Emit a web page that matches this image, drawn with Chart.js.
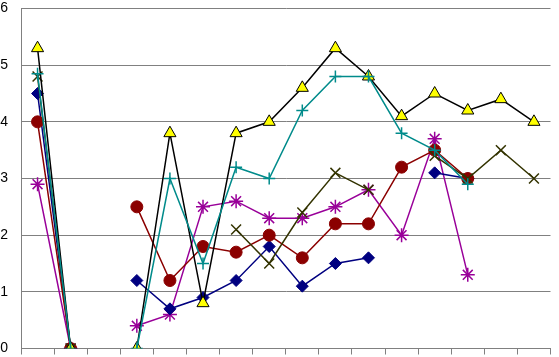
<!DOCTYPE html>
<html>
<head>
<meta charset="utf-8">
<script src="https://cdn.jsdelivr.net/npm/chart.js@4/dist/chart.umd.min.js"></script>
<style>
  html, body { margin: 0; padding: 0; background: #fff; }
  #wrap { width: 559px; height: 357px; }
</style>
</head>
<body>
<div id="wrap"><canvas id="chart" width="559" height="357"></canvas></div>
<script>
const categories = ['1', '2', '3', '4', '5', '6', '7', '8', '9', '10', '11', '12', '13', '14', '15', '16'];
const yTicks = [0, 1, 2, 3, 4, 5, 6];

const seriesTriangle = [5.3, 0, null, 0, 3.8, 0.8, 3.8, 4.0, 4.6, 5.3, 4.8, 4.1, 4.5, 4.2, 4.4, 4.0];
const seriesTeal = [4.85, 0, null, 0, 3.0, 1.5, 3.2, 3.0, 4.2, 4.8, 4.8, 3.8, 3.5, 2.9, null, null];
const seriesOlive = [4.8, 0, null, null, null, null, 2.1, 1.5, 2.4, 3.1, 2.8, null, 3.4, 3.0, 3.5, 3.0];
const seriesNavy = [4.5, 0, null, 1.2, 0.7, 0.9, 1.2, 1.8, 1.1, 1.5, 1.6, null, 3.1, 3.0, null, null];
const seriesRed = [4.0, 0, null, 2.5, 1.2, 1.8, 1.7, 2.0, 1.6, 2.2, 2.2, 3.2, 3.5, 3.0, null, null];
const seriesPurple = [2.9, 0, null, 0.4, 0.6, 2.5, 2.6, 2.3, 2.3, 2.5, 2.8, 2.0, 3.7, 1.3, null, null];

function line(data, color, style, fill, radius, bw) {
    return {
        data: data,
        borderColor: color,
        borderWidth: 1.5,
        pointStyle: style,
        pointRadius: radius,
        pointBackgroundColor: fill,
        pointBorderColor: style === 'triangle' ? '#000' : color,
        pointBorderWidth: bw,
        tension: 0,
        spanGaps: false
    };
}

const ctx = document.getElementById('chart').getContext('2d');
new Chart(ctx, {
    type: 'line',
    data: {
        labels: categories,
        datasets: [
            line(seriesTeal, '#008b8b', 'cross', '#008b8b', 6, 1.5),
            line(seriesTriangle, '#000000', 'triangle', '#ffff00', 7, 1),
            line(seriesOlive, '#333300', 'crossRot', '#333300', 7, 1.5),
            line(seriesRed, '#8b0000', 'circle', '#8b0000', 6, 1),
            line(seriesNavy, '#000080', 'rectRot', '#000080', 6, 1),
            line(seriesPurple, '#990099', 'star', '#990099', 7, 1.5)
        ]
    },
    options: {
        responsive: false,
        animation: false,
        layout: { padding: { top: 6, right: 0, bottom: 0, left: 0 } },
        plugins: { legend: { display: false }, tooltip: { enabled: false } },
        scales: {
            x: {
                offset: true,
                grid: { offset: true, drawOnChartArea: false, drawTicks: true, tickLength: 6, color: '#808080' },
                border: { color: '#808080' },
                ticks: { display: false },
                afterFit: (scale) => {
                    scale.height = 6;
                    scale.paddingLeft = 0;
                    scale.paddingRight = 0;
                }
            },
            y: {
                min: 0,
                max: 6,
                afterBuildTicks: (scale) => { scale.ticks = yTicks.map(v => ({ value: v })); },
                afterFit: (scale) => {
                    scale.width = 21;
                    scale.paddingTop = 0;
                    scale.paddingBottom = 0;
                },
                grid: { color: '#808080', drawTicks: false },
                border: { color: '#808080' },
                ticks: {
                    padding: 13,
                    color: '#000',
                    font: { family: 'Liberation Sans, Arial, sans-serif', size: 14, lineHeight: 1 }
                }
            }
        }
    }
});
</script>
</body>
</html>
